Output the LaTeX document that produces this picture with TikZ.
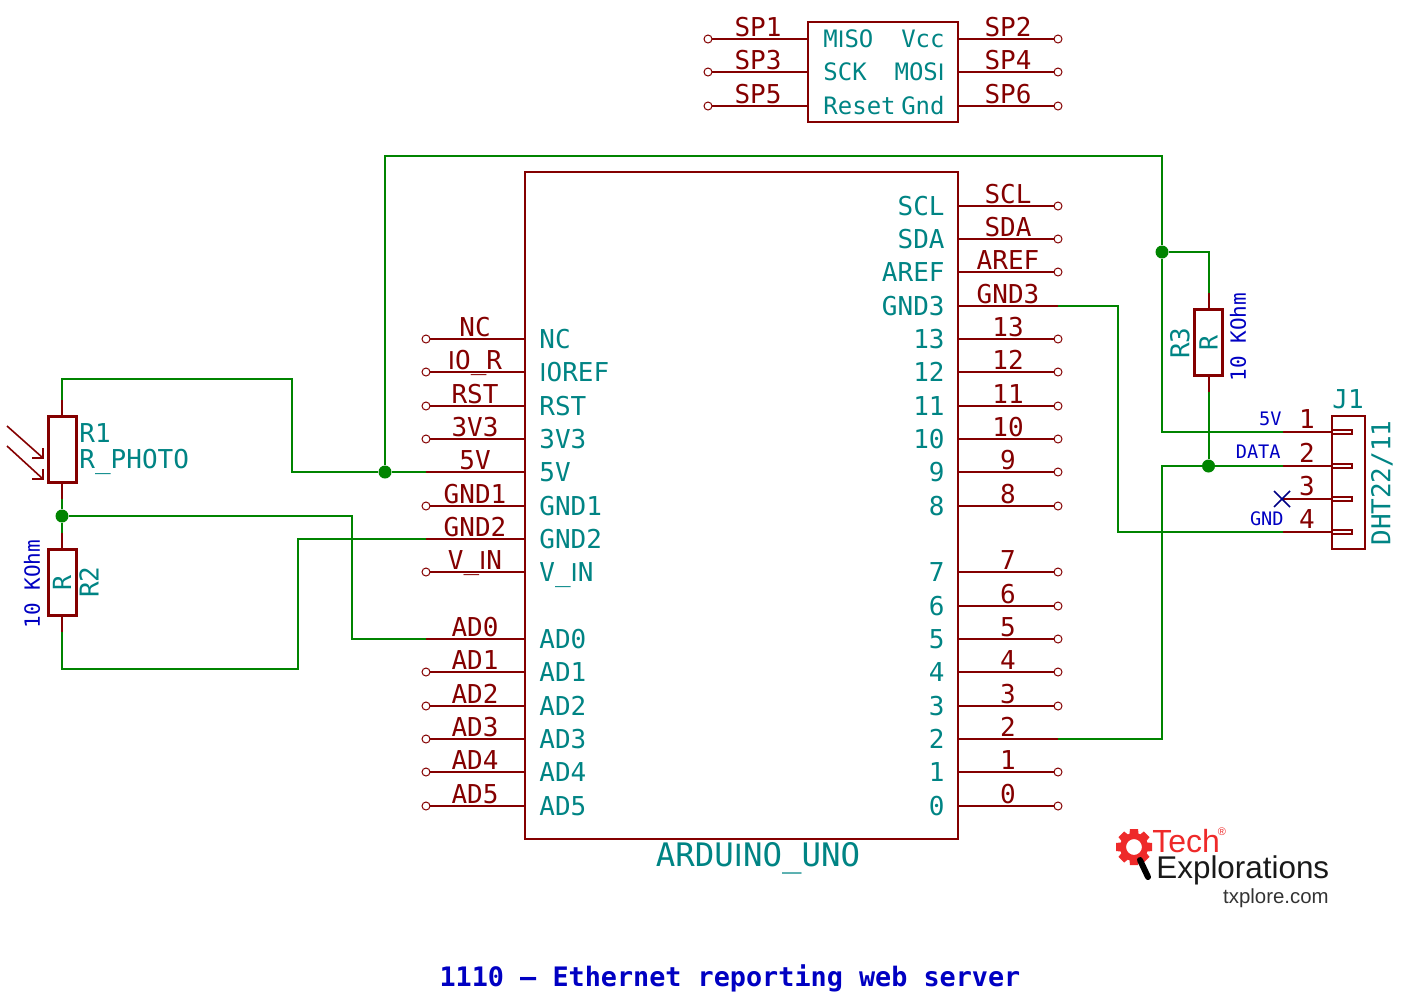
\documentclass[tikz,border=0pt]{standalone}
\usepackage{fontspec}
\setmainfont{DejaVu Sans Mono}
\newfontfamily\logofont{Liberation Sans}
\newcommand{\thinI}{{\logofont I}}
\usepackage{xcolor}
\definecolor{pinred}{HTML}{840000}
\definecolor{wiregreen}{HTML}{008400}
\definecolor{reftext}{HTML}{008484}
\definecolor{valblue}{HTML}{0000C2}
\definecolor{crossblue}{HTML}{000084}
\definecolor{logored}{HTML}{EE2A2A}
\tikzset{
  wire/.style={wiregreen,line width=1pt},
  pin/.style={pinred,line width=1pt},
  pinend/.style={circle,draw=pinred,fill=white,line width=0.5pt,minimum size=4pt,inner sep=0pt},
  pinfree/.style={inner sep=0pt,minimum size=0pt},
  dot/.style={circle,fill=wiregreen,minimum size=6.5pt,inner sep=0pt},
  body/.style={draw=pinred,line width=1pt,inner sep=0pt},
  resbox/.style={draw=pinred,fill=white,line width=1.5pt,inner sep=0pt,minimum width=33pt,minimum height=14pt,rotate=90,text=reftext,font=\fontsize{12.5}{12.5}\selectfont},
  pinlabel/.style={text=pinred,inner sep=0pt,anchor=base,font=\fontsize{13}{13}\selectfont},
  reflabel/.style={text=reftext,inner sep=0pt,font=\fontsize{13}{13}\selectfont},
  isplabel/.style={text=reftext,inner sep=0pt,font=\fontsize{12}{12}\selectfont},
  netlabel/.style={text=valblue,inner sep=0pt,anchor=base east,font=\fontsize{9.3}{9.3}\selectfont},
  vallabel/.style={text=valblue,inner sep=0pt,rotate=90,font=\fontsize{10.5}{10.5}\selectfont},
}
\begin{document}
\begin{tikzpicture}[x=0.5pt,y=-0.5pt]
  \useasboundingbox (0,0) rectangle (1414,998);
  % board and ISP header
  \node[body,minimum width=216.5pt,minimum height=333.5pt] (uno) at (741.5,505.5) {};
  \node[body,minimum width=75pt,minimum height=50pt] (isp) at (883,72) {};
  \node[reflabel,font=\fontsize{16.2}{16.2}\selectfont,anchor=base] (unoname) at (758,866) {ARDU\thinI NO\_UNO};
  % left pins of the board
  \foreach \y/\p/\t/\s in {339/NC/NC/pinend,372/\thinI O\_R/\thinI OREF/pinend,406/RST/RST/pinend,439/3V3/3V3/pinend,
    472/5V/5V/pinfree,506/GND1/GND1/pinend,539/GND2/GND2/pinfree,572/V\_\thinI N/V\_\thinI N/pinend,
    639/AD0/AD0/pinfree,672/AD1/AD1/pinend,706/AD2/AD2/pinend,739/AD3/AD3/pinend,772/AD4/AD4/pinend,806/AD5/AD5/pinend}{
    \draw[pin] (426,\y)--(525,\y);
    \node[\s] (L\y) at (426,\y) {};
    \node[pinlabel] (Lp\y) at (475,\y-3) {\p};
    \node[reflabel,anchor=base west] (Lt\y) at (539,\y+9) {\t};
  }
  % right pins of the board
  \foreach \y/\p/\t/\s in {206/SCL/SCL/pinend,239/SDA/SDA/pinend,272/AREF/AREF/pinend,306/GND3/GND3/pinfree,
    339/13/13/pinend,372/12/12/pinend,406/11/11/pinend,439/10/10/pinend,472/9/9/pinend,506/8/8/pinend,
    572/7/7/pinend,606/6/6/pinend,639/5/5/pinend,672/4/4/pinend,706/3/3/pinend,739/2/2/pinfree,772/1/1/pinend,806/0/0/pinend}{
    \draw[pin] (958,\y)--(1058,\y);
    \node[\s] (U\y) at (1058,\y) {};
    \node[pinlabel] (Up\y) at (1008,\y-3) {\p};
    \node[reflabel,anchor=base east] (Ut\y) at (945,\y+9) {\t};
  }
  % ISP pins
  \foreach \y/\a/\ta/\b/\tb in {39/SP1/M\thinI SO/SP2/Vcc,72/SP3/SCK/SP4/MOS\thinI,106/SP5/Reset/SP6/Gnd}{
    \draw[pin] (708,\y)--(808,\y);
    \draw[pin] (958,\y)--(1058,\y);
    \node[pinend] (IL\y) at (708,\y) {};
    \node[pinend] (IR\y) at (1058,\y) {};
    \node[pinlabel] (ILp\y) at (758,\y-3) {\a};
    \node[pinlabel] (IRp\y) at (1008,\y-3) {\b};
    \node[isplabel,anchor=base west] (ILt\y) at (823,\y+8) {\ta};
    \node[isplabel,anchor=base east] (IRt\y) at (945,\y+8) {\tb};
  }
  % resistors
  \node[resbox] (R1) at (62,449.5) {};
  \node[resbox] (R2) at (62,582.5) {R};
  \node[resbox] (R3) at (1208.5,342.5) {R};
  \coordinate (R1t) at (62,400);
  \coordinate (R1b) at (62,499);
  \coordinate (R2t) at (62,533);
  \coordinate (R2b) at (62,632);
  \coordinate (R3t) at (1208.5,293);
  \coordinate (R3b) at (1208.5,392);
  \draw[pin] (R1.east)--(R1t);
  \draw[pin] (R1.west)--(R1b);
  \draw[pin] (R2.east)--(R2t);
  \draw[pin] (R2.west)--(R2b);
  \draw[pin] (R3.east)--(R3t);
  \draw[pin] (R3.west)--(R3b);
  \node[reflabel,anchor=base west] (R1ref) at (79,442) {R1};
  \node[reflabel,anchor=base west] (R1val) at (79,468) {R\_PHOTO};
  \node[reflabel,rotate=90] (R2ref) at (89,582) {R2};
  \node[reflabel,rotate=90] (R3ref) at (1180,343) {R3};
  \node[vallabel] (R2val) at (32,584) {10 KOhm};
  \node[vallabel] (R3val) at (1238,337) {10 KOhm};
  % light arrows on the photo resistor
  \draw[pinred,line width=0.8pt] (7,426)--(43,458) (43,448)--(43,458)--(32,458);
  \draw[pinred,line width=0.8pt] (7,446)--(43,479) (43,469)--(43,479)--(32,479);
  % sensor connector
  \node[body,minimum width=16.5pt,minimum height=66.5pt] (J1) at (1348.5,482.5) {};
  \node[reflabel,anchor=base] (J1ref) at (1348,408) {J1};
  \node[reflabel,rotate=90] (J1val) at (1382,483) {DHT22/11};
  \foreach \y/\n in {432/1,466/2,499/3,532/4}{
    \node[pinfree] (J\n) at (1283,\y) {};
    \draw[pin] (J\n)--(1332,\y);
    \draw[pinred,line width=0.7pt] (1332,\y-2) rectangle (1352,\y+2);
    \node[pinlabel] (Jp\n) at (1307,\y-4) {\n};
  }
  \node[netlabel] (J1net) at (1282,425) {5V};
  \node[netlabel] (J2net) at (1281,458) {DATA};
  \node[netlabel] (J4net) at (1284,525) {GND};
  \draw[crossblue,line width=0.8pt] (1274,491)--(1290,507) (1290,491)--(1274,507);
  % junctions
  \node[dot] (j5v) at (385,472) {};
  \node[dot] (jadc) at (62,516) {};
  \node[dot] (jpull) at (1162,252) {};
  \node[dot] (jdata) at (1208.5,466) {};
  % wires
  \draw[wire] (L472)--(j5v)--(292,472)--(292,379)--(62,379)--(R1t);
  \draw[wire] (R1b)--(jadc)--(R2t);
  \draw[wire] (jadc)--(352,516)--(352,639)--(L639);
  \draw[wire] (R2b)--(62,669)--(298,669)--(298,539)--(L539);
  \draw[wire] (j5v)--(385,156)--(1162,156)--(jpull)--(1162,432)--(J1);
  \draw[wire] (jpull)--(1208.5,252)--(R3t);
  \draw[wire] (R3b)--(jdata);
  \draw[wire] (U739)--(1162,739)--(1162,466)--(jdata)--(J2);
  \draw[wire] (U306)--(1118,306)--(1118,532)--(J4);
  % logo
  \foreach \a in {0,45,...,315}{
    \fill[logored,rotate around={\a:(1134,847)}] (1130,829)--(1138,829)--(1139,838)--(1129,838)--cycle;
  }
  \draw[logored,line width=3pt] (1134,847) circle (11);
  \draw[black,line width=3pt,line cap=round] (1140,860)--(1148,877);
  \node[text=logored,inner sep=0pt,anchor=base west,font=\logofont\fontsize{16}{16}\selectfont] (logotech) at (1152,852) {Tech};
  \node[text=logored,inner sep=0pt,font=\logofont\fontsize{5.5}{5.5}\selectfont] (logoreg) at (1222,832) {®};
  \node[text=black!90,inner sep=0pt,anchor=base west,font=\logofont\fontsize{15.7}{15.7}\selectfont] (logoname) at (1156,878) {Explorations};
  \node[text=black!80,inner sep=0pt,anchor=base east,font=\logofont\fontsize{10.2}{10.2}\selectfont] (logourl) at (1329,903) {txplore.com};
  % title
  \node[text=valblue,inner sep=0pt,anchor=base,font=\bfseries\fontsize{13.4}{13.4}\selectfont] (title) at (730,986) {1110 — Ethernet reporting web server};
\end{tikzpicture}
\end{document}
